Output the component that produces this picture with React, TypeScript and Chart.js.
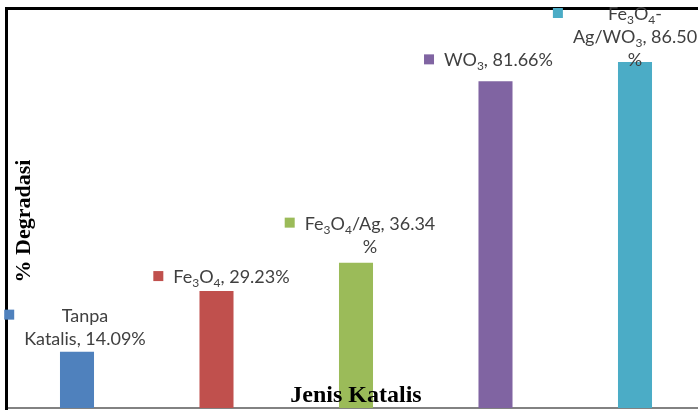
import { useEffect, useRef } from 'react';
import { Chart, ChartConfiguration, Plugin, registerables } from 'chart.js';

Chart.register(...registerables);

// Data
const categories = ['Tanpa Katalis', 'Fe₃O₄', 'Fe₃O₄/Ag', 'WO₃', 'Fe₃O₄-Ag/WO₃'];
const degradasi = [14.09, 29.23, 36.34, 81.66, 86.5];
const barColors = ['#4F81BD', '#C0504D', '#9BBB59', '#8064A2', '#4BACC6'];
// where each data label wraps (text after which a new line starts)
const labelBreaks = [['Tanpa'], [], ['36.34'], [], ['Fe₃O₄-', '86.50']];
const yTitle = '% Degradasi';
const xTitle = 'Jenis Katalis';

// label offsets relative to the top of each bar (hand-moved in the original)
const labelPlacement = [
  { dx: 8, dy: -30 },
  { dx: 15, dy: -8 },
  { dx: 14, dy: -33 },
  { dx: 3, dy: -15 },
  { dx: 0, dy: -42 },
];

const LABEL_FONT = 'Lato';
const LABEL_SIZE = 18;
const SUB_SIZE = 12;
const LINE_HEIGHT = 23;
const SUBS = '₀₁₂₃₄₅₆₇₈₉';

function labelLines(i: number): string[] {
  let rest = `${categories[i]}, ${degradasi[i].toFixed(2)}%`;
  const lines: string[] = [];
  for (const b of labelBreaks[i]) {
    const idx = rest.indexOf(b) + b.length;
    lines.push(rest.slice(0, idx).trim());
    rest = rest.slice(idx).trim();
  }
  lines.push(rest);
  return lines;
}

// split into normal / subscript runs
function runs(text: string) {
  const out: { t: string; sub: boolean }[] = [];
  for (const ch of text) {
    const k = SUBS.indexOf(ch);
    const sub = k >= 0;
    const c = sub ? String(k) : ch;
    const last = out[out.length - 1];
    if (last && last.sub === sub) last.t += c;
    else out.push({ t: c, sub });
  }
  return out;
}

function measureRich(ctx: CanvasRenderingContext2D, text: string) {
  let w = 0;
  for (const r of runs(text)) {
    ctx.font = `${r.sub ? SUB_SIZE : LABEL_SIZE}px ${LABEL_FONT}`;
    w += ctx.measureText(r.t).width;
  }
  return w;
}

function drawRich(ctx: CanvasRenderingContext2D, text: string, x: number, y: number) {
  let cx = x;
  for (const r of runs(text)) {
    ctx.font = `${r.sub ? SUB_SIZE : LABEL_SIZE}px ${LABEL_FONT}`;
    ctx.fillText(r.t, cx, r.sub ? y + 4 : y);
    cx += ctx.measureText(r.t).width;
  }
}

const framePlugin: Plugin = {
  id: 'frame',
  beforeDatasetsDraw(chart) {
    const { ctx, chartArea, width } = chart;
    ctx.save();
    // x axis line
    ctx.strokeStyle = '#595959';
    ctx.lineWidth = 1.5;
    ctx.beginPath();
    ctx.moveTo(chartArea.left, chartArea.bottom);
    ctx.lineTo(width, chartArea.bottom);
    ctx.stroke();
    // black plot border (left + top)
    ctx.strokeStyle = '#000';
    ctx.lineWidth = 3;
    ctx.beginPath();
    ctx.moveTo(chartArea.left - 0.75, chart.height);
    ctx.lineTo(chartArea.left - 0.75, chartArea.top + 0.5);
    ctx.lineTo(width, chartArea.top + 0.5);
    ctx.stroke();
    ctx.restore();
  },
  afterDatasetsDraw(chart) {
    const { ctx, chartArea } = chart;
    const meta = chart.getDatasetMeta(0);
    ctx.save();
    ctx.textBaseline = 'alphabetic';
    meta.data.forEach((bar, i) => {
      const lines = labelLines(i);
      const p = labelPlacement[i];
      const cx = bar.x + p.dx;
      const by = bar.y + p.dy;
      const widths = lines.map((l) => measureRich(ctx, l));
      const maxW = Math.max(...widths);
      ctx.fillStyle = barColors[i];
      ctx.fillRect(cx - maxW / 2 - 20, by - 12, 10, 10);
      ctx.fillStyle = '#404040';
      lines.forEach((l, j) => {
        drawRich(ctx, l, cx - widths[j] / 2, by + j * LINE_HEIGHT);
      });
    });

    // axis titles sit inside the plot area
    ctx.fillStyle = '#000';
    ctx.font = 'bold 24px "Liberation Serif"';
    ctx.textAlign = 'center';
    ctx.fillText(xTitle, (chartArea.left + chartArea.right) / 2, chartArea.bottom - 6);
    ctx.translate(chartArea.left + 23, 221);
    ctx.rotate(-Math.PI / 2);
    ctx.font = 'bold 22px "Liberation Serif"';
    ctx.fillText(yTitle, 0, 0);
    ctx.restore();
  },
};

export default function App() {
  const chartRef = useRef<HTMLCanvasElement>(null);
  const chartInstance = useRef<Chart | null>(null);

  useEffect(() => {
    if (!chartRef.current) return;
    if (chartInstance.current) chartInstance.current.destroy();

    const config: ChartConfiguration = {
      type: 'bar',
      data: {
        labels: categories,
        datasets: [
          {
            data: degradasi,
            backgroundColor: barColors,
            borderWidth: 0,
            barPercentage: 0.244,
            categoryPercentage: 1,
          },
        ],
      },
      options: {
        responsive: true,
        maintainAspectRatio: false,
        animation: false,
        layout: { padding: { left: 7.25, right: 7.25, top: 8, bottom: 2 } },
        plugins: {
          legend: { display: false },
          tooltip: { enabled: false },
        },
        scales: {
          x: { display: false },
          y: { display: false, min: 0, max: 100 },
        },
      },
      plugins: [framePlugin],
    };

    chartInstance.current = new Chart(chartRef.current, config);

    return () => {
      if (chartInstance.current) {
        chartInstance.current.destroy();
        chartInstance.current = null;
      }
    };
  }, []);

  return (
    <div
      style={{
        position: 'fixed',
        left: 0,
        top: 0,
        width: 698,
        height: 410,
        overflow: 'hidden',
        background: '#fff',
      }}
    >
      <div style={{ position: 'relative', width: 712, height: 410 }}>
        <canvas ref={chartRef}></canvas>
      </div>
    </div>
  );
}
